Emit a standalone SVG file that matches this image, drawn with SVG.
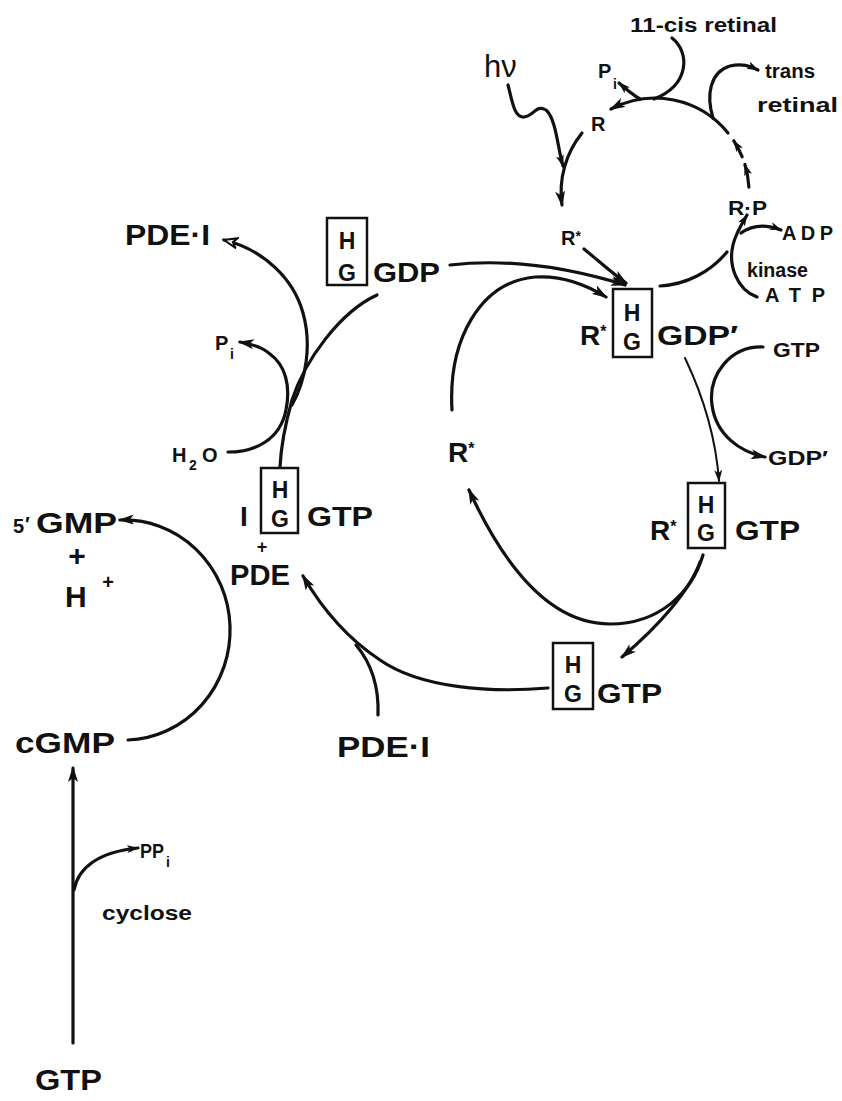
<svg xmlns="http://www.w3.org/2000/svg" width="842" height="1101" viewBox="0 0 842 1101">
<style>
  text { font-family: "Liberation Sans", Arial, sans-serif; font-weight: bold; fill: #111; }
  .lg { font-size: 28px; }
  .xl { font-size: 30px; }
  .md { font-size: 20px; }
  .sb { font-size: 14px; }
  .bx { font-size: 23px; text-anchor: middle; }
  .box { fill: none; stroke: #111; stroke-width: 2.5; }
  .ln { fill: none; stroke: #111; stroke-width: 3.2; stroke-linecap: round; }
  .th { fill: none; stroke: #111; stroke-width: 2; stroke-linecap: round; }
  .arr { marker-end: url(#ah); }
  .arrs { marker-end: url(#ahs); }
  .arro { marker-end: url(#aho); }
</style>
<defs>
  <marker id="ah" viewBox="0 0 16 10" refX="14" refY="5" markerWidth="16" markerHeight="10" markerUnits="userSpaceOnUse" orient="auto">
    <path d="M0,0 L16,5 L0,10 L4,5 z" fill="#111"/>
  </marker>
  <marker id="ahs" viewBox="0 0 12 8" refX="11" refY="4" markerWidth="12" markerHeight="8" markerUnits="userSpaceOnUse" orient="auto">
    <path d="M0,0 L12,4 L0,8 L3,4 z" fill="#111"/>
  </marker>
  <marker id="aho" viewBox="0 0 16 12" refX="14" refY="6" markerWidth="16" markerHeight="12" markerUnits="userSpaceOnUse" orient="auto">
    <path d="M1,1 L14,6 L1,11 L5,6 z" fill="#fff" stroke="#111" stroke-width="2"/>
  </marker>
</defs>
<rect width="842" height="1101" fill="#fff"/>

<g id="connectors">
  <!-- rhodopsin ring -->
  <path class="ln arr" d="M728,133 A94,94 0 0 0 611,109"/>
  <path class="ln arrs" d="M640,99 C633,95 627,90 619,83"/>
  <path class="ln" d="M672,38 C690,52 690,85 654,99"/>
  <path class="ln arr" d="M582,133 A94,94 0 0 0 562,205"/>
  <path class="ln arrs" d="M508,85 C512,100 514,118 524,117 C534,116 536,104 546,110 C556,118 558,150 563,166"/>
  <path class="ln arr" d="M584,249 C600,262 612,273 626,283"/>
  <path class="ln" d="M660,286 A94,94 0 0 0 727,252"/>
  <path class="ln arrs" d="M757,297 C737,290 728,265 733,245 C735,235 741,225 747,215"/>
  <path class="ln arrs" d="M741,233 C752,225 766,224 781,230"/>
  <path class="ln arrs" d="M748.9,187.1 A94,94 0 0 0 744.9,164.5"/>
  <path class="ln arrs" d="M742.2,156.8 A94,94 0 0 0 733.8,140.8"/>
  <path class="ln arrs" d="M713,118 C706,95 710,72 730,66 C742,63 750,66 758,70"/>

  <!-- transducin cycle -->
  <path class="ln arr" d="M450,265 C510,258 570,268 625,285"/>
  <path class="ln arr" d="M452,410 C448,340 480,282 535,277 C565,275 590,287 606,297"/>
  <path class="th arrs" d="M685,358 C705,400 716,440 719,481"/>
  <path class="ln arr" d="M763,347 C730,346 708,375 712,405 C716,435 740,452 765,457"/>
  <path class="ln arr" d="M703,555 C692,592 660,624 610,624 C555,624 508,575 469,490"/>
  <path class="ln arr" d="M700,562 C690,590 660,625 622,657"/>
  <path class="ln arr" d="M548,688 C490,693 420,688 380,660 C345,637 320,605 303,576"/>
  <path class="ln" d="M378,715 C379,688 372,664 356,645"/>
  <path class="ln" d="M377,295 C340,312 305,360 292,400 C285,425 281,445 280,467"/>
  <path class="ln arro" d="M292,405 C306,380 312,345 303,313 C294,280 265,250 224,240"/>
  <path class="ln arr" d="M228,452 C255,452 280,440 286,410 C291,385 285,365 270,354 C262,347 252,344 240,342"/>

  <!-- cGMP hydrolysis and synthesis -->
  <path class="ln arr" d="M128,740 A106,110 0 0 0 120,520"/>
  <path class="ln arr" d="M73,1043 L73,768"/>
  <path class="ln arrs" d="M74,890 C78,868 98,852 138,848"/>
</g>

<g id="n-11cis"><text class="md" x="630" y="32" textLength="147" lengthAdjust="spacingAndGlyphs">11-cis retinal</text></g>
<g id="n-hv"><text x="484" y="77" style="font-size:31px;font-weight:normal">hν</text></g>
<g id="n-pi-top"><text class="md" x="598" y="78">P</text><text class="sb" x="613" y="89">i</text></g>
<g id="n-r"><text class="md" x="591" y="131">R</text></g>
<g id="n-rstar-top"><text class="md" x="561" y="245">R<tspan font-size="14" dy="-4">*</tspan></text></g>
<g id="n-trans">
  <text class="md" x="765" y="78" textLength="50" lengthAdjust="spacingAndGlyphs">trans</text>
  <text class="md" x="757" y="112" textLength="81" lengthAdjust="spacingAndGlyphs">retinal</text>
</g>
<g id="n-rp"><text class="md" x="728" y="215" textLength="39" lengthAdjust="spacingAndGlyphs">R·P</text></g>
<g id="n-adp"><text class="md" x="782" y="240" textLength="51">ADP</text></g>
<g id="n-kinase"><text class="md" x="747" y="277" textLength="61" lengthAdjust="spacingAndGlyphs">kinase</text></g>
<g id="n-atp"><text class="md" x="765" y="302" textLength="60">ATP</text></g>

<g id="n-pde-i-top"><text class="xl" x="125" y="245" textLength="85" lengthAdjust="spacingAndGlyphs">PDE·I</text></g>
<g id="n-hg-gdp">
  <rect class="box" x="327" y="218" width="40" height="67"/>
  <text class="bx" x="347" y="249">H</text><text class="bx" x="347" y="281">G</text>
  <text class="lg" x="373" y="282" textLength="67" lengthAdjust="spacingAndGlyphs">GDP</text>
</g>
<g id="n-rstar-hg-gdp">
  <text class="lg" x="580" y="345">R<tspan font-size="16" dy="-8">*</tspan></text>
  <rect class="box" x="613" y="289" width="39" height="68"/>
  <text class="bx" x="632" y="321">H</text><text class="bx" x="632" y="350">G</text>
  <text class="lg" x="657" y="345" textLength="81" lengthAdjust="spacingAndGlyphs">GDP′</text>
</g>
<g id="n-gtp-in"><text class="md" x="773" y="357" textLength="47" lengthAdjust="spacingAndGlyphs">GTP</text></g>
<g id="n-gdp-out"><text class="md" x="768" y="465" textLength="60" lengthAdjust="spacingAndGlyphs">GDP′</text></g>
<g id="n-rstar-hg-gtp">
  <text class="lg" x="650" y="540">R<tspan font-size="16" dy="-8">*</tspan></text>
  <rect class="box" x="688" y="483" width="37" height="65"/>
  <text class="bx" x="706" y="513">H</text><text class="bx" x="706" y="541">G</text>
  <text class="lg" x="735" y="540" textLength="65" lengthAdjust="spacingAndGlyphs">GTP</text>
</g>
<g id="n-rstar-mid"><text class="lg" x="448" y="462">R<tspan font-size="16" dy="-8">*</tspan></text></g>
<g id="n-hg-gtp">
  <rect class="box" x="553" y="643" width="40" height="66"/>
  <text class="bx" x="573" y="673">H</text><text class="bx" x="573" y="702">G</text>
  <text class="lg" x="597" y="703" textLength="65" lengthAdjust="spacingAndGlyphs">GTP</text>
</g>
<g id="n-pde-i-bottom"><text class="xl" x="337" y="757" textLength="93" lengthAdjust="spacingAndGlyphs">PDE·I</text></g>
<g id="n-i-hg-gtp-pde">
  <text class="lg" x="240" y="526">I</text>
  <rect class="box" x="261" y="468" width="37" height="65"/>
  <text class="bx" x="280" y="498">H</text><text class="bx" x="280" y="527">G</text>
  <text class="lg" x="307" y="526" textLength="66" lengthAdjust="spacingAndGlyphs">GTP</text>
  <text x="262" y="553" text-anchor="middle" style="font-size:18px">+</text>
  <text class="xl" x="230" y="585" textLength="60" lengthAdjust="spacingAndGlyphs">PDE</text>
</g>
<g id="n-pi-left"><text class="md" x="215" y="350">P</text><text class="sb" x="230" y="359">i</text></g>
<g id="n-h2o"><text class="md" x="172" y="462">H</text><text class="sb" x="189" y="470">2</text><text class="md" x="202" y="462">O</text></g>

<g id="n-5gmp-h">
  <text class="md" x="13" y="533">5</text><text class="md" x="25" y="531">′</text>
  <text class="xl" x="36" y="533" textLength="81" lengthAdjust="spacingAndGlyphs">GMP</text>
  <text class="xl" x="77" y="566" text-anchor="middle">+</text>
  <text class="xl" x="65" y="607">H</text>
  <text class="md" x="108" y="589" text-anchor="middle">+</text>
</g>
<g id="n-cgmp"><text class="xl" x="15" y="753" textLength="100" lengthAdjust="spacingAndGlyphs">cGMP</text></g>
<g id="n-ppi"><text class="md" x="140" y="858" textLength="24" lengthAdjust="spacingAndGlyphs">PP</text><text class="sb" x="166" y="867">i</text></g>
<g id="n-cyclose"><text class="md" x="102" y="920" textLength="90" lengthAdjust="spacingAndGlyphs">cyclose</text></g>
<g id="n-gtp-bottom"><text class="xl" x="35" y="1090" textLength="67" lengthAdjust="spacingAndGlyphs">GTP</text></g>
</svg>
